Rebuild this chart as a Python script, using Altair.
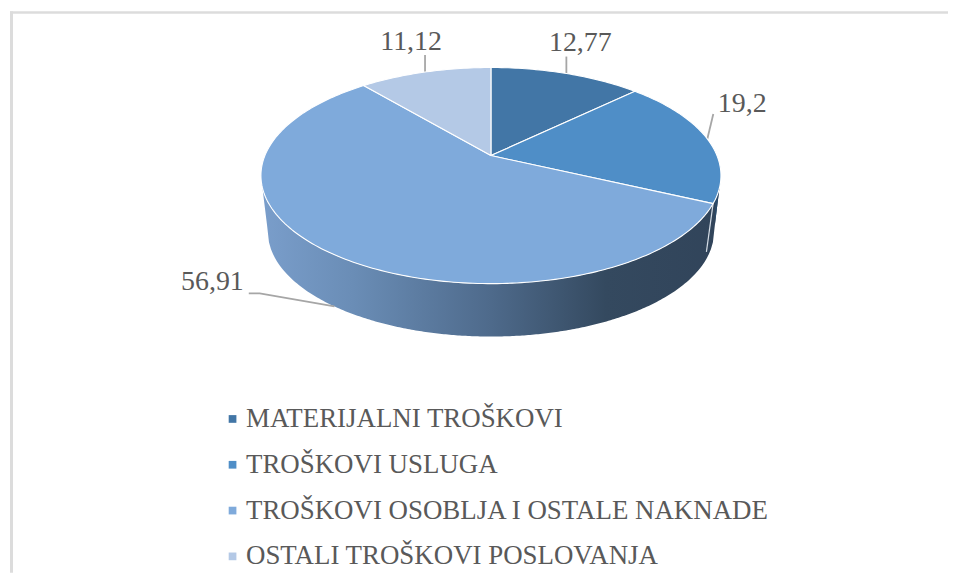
import math
import numpy as np
import pandas as pd
import altair as alt

# --- chart values -------------------------------------------------------
categories = ["MATERIJALNI TROŠKOVI", "TROŠKOVI USLUGA",
              "TROŠKOVI OSOBLJA I OSTALE NAKNADE", "OSTALI TROŠKOVI POSLOVANJA"]
values = [12.77, 19.2, 56.91, 11.12]
value_labels = ["12,77", "19,2", "56,91", "11,12"]
colors = ["#4276a6", "#4f8ec7", "#7faadb", "#b4c9e6"]

# --- layout --------------------------------------------------------------
W, H = 942, 566
APEX_X, APEX_Y = 483, 147           # pie centre inside the plot area
A, B, P = 227.0, 104.8, 0.185       # tilted-disc projection
DEPTH, SHRINK = 57.0, 0.97          # thickness of the disc
FONT = "Liberation Serif"
TEXT = "#595959"


def rim(theta):
    u, v = np.sin(theta), np.cos(theta)
    w = 1 + P * v
    return A * u / w, B * v / w


def floor(theta):
    x, y = rim(theta)
    return x * SHRINK, y * SHRINK - DEPTH


total = sum(values)
edges = np.cumsum([0] + values) / total * 2 * math.pi

# top surface wedges
rows = []
for name, t0, t1 in zip(categories, edges[:-1], edges[1:]):
    n = max(8, int(math.degrees(t1 - t0)))
    ts = np.linspace(t0, t1, n)
    xs, ys = rim(ts)
    px = [0.0, *xs, 0.0]
    py = [0.0, *ys, 0.0]
    for i, (a, b) in enumerate(zip(px, py)):
        rows.append({"name": name, "i": i, "x": float(a), "y": float(b)})
wedges = pd.DataFrame(rows)

# disc side
tang = math.acos(-P)
front = np.linspace(tang, 2 * math.pi - tang, 181)[::-1]
fx, fy = rim(front)
bx, by = floor(front)
bx = np.r_[fx[0], bx, fx[-1]]
by = np.r_[fy[0], by, fy[-1]]
grid = np.linspace(fx[0], fx[-1], 230)
side = pd.DataFrame({"x": grid, "y": np.interp(grid, fx, fy), "y2": np.interp(grid, bx, by)})

# the sliver of the second slice that shows on the side
t_split = edges[2]
sl = grid[grid >= rim(t_split)[0]]
sliver = pd.DataFrame({"x": sl, "y": np.interp(sl, fx, fy), "y2": np.interp(sl, bx, by)})
ex0, ey0 = rim(t_split)
ex1, ey1 = floor(t_split)
split_edge = pd.DataFrame({"x": [ex0, ex1], "y": [ey0, ey1 + 7], "i": [0, 1]})

# leaders start at slice middles
mids = (edges[:-1] + edges[1:]) / 2
leader_rows = []
label_rows = []
# leader bend offsets and label offsets, relative to the anchor
leader_offsets = [[(0, 17)], [(6, 25)], [(-75, 13), (-86, 13)], [(0, 17)]]
label_offsets = [(14, 23), (35, 27), (-122.5, 16), (-14, 22)]
for k, t in enumerate(mids):
    ax, ay = floor(t) if k == 2 else rim(t)
    pts = [(ax, ay)] + [(ax + dx, ay + dy) for dx, dy in leader_offsets[k]]
    for i, (a, b) in enumerate(pts):
        leader_rows.append({"k": k, "i": i, "x": float(a), "y": float(b)})
    label_rows.append({"x": float(ax + label_offsets[k][0]),
                       "y": float(ay + label_offsets[k][1]),
                       "t": value_labels[k]})
leaders = pd.DataFrame(leader_rows)
labels = pd.DataFrame(label_rows)

xs = alt.Scale(domain=[-APEX_X, W - APEX_X], nice=False, zero=False)
ys = alt.Scale(domain=[APEX_Y - H, APEX_Y], nice=False, zero=False)
X = alt.X("x:Q", scale=xs, axis=None)
Y = alt.Y("y:Q", scale=ys, axis=None)

side_fill = alt.Gradient(
    gradient="linear", x1=0, x2=1, y1=0, y2=0,
    stops=[
        alt.GradientStop(offset=0, color="#7a9ecb"),
        alt.GradientStop(offset=0.2, color="#6a8db6"),
        alt.GradientStop(offset=0.5, color="#4e6a8b"),
        alt.GradientStop(offset=0.75, color="#34495f"),
        alt.GradientStop(offset=1, color="#31445a"),
    ],
)

side_layer = alt.Chart(side).mark_area(fill=side_fill, line=False, interpolate="linear").encode(
    x=X, y=Y, y2="y2:Q")
sliver_layer = alt.Chart(sliver).mark_area(color="#2b4a69", interpolate="linear").encode(
    x=X, y=Y, y2="y2:Q")
split_layer = alt.Chart(split_edge).mark_line(color="#d5dde6", strokeWidth=1.2).encode(
    x=X, y=Y, order="i:Q")

wedge_layer = alt.Chart(wedges).mark_line(
    filled=True, stroke="white", strokeWidth=1.1, interpolate="linear", strokeJoin="round"
).encode(
    x=X, y=Y, order="i:Q",
    color=alt.Color(
        "name:N",
        scale=alt.Scale(domain=categories, range=colors),
        legend=alt.Legend(
            title=None, orient="none", legendX=204.5, legendY=398,
            symbolType="square", symbolSize=60, symbolStrokeWidth=0, symbolOffset=5.5,
            labelFont=FONT, labelFontSize=27, labelColor=TEXT, labelLimit=700,
            rowPadding=18, labelOffset=0, padding=0,
        ),
    ),
)

leader_layer = alt.Chart(leaders).mark_line(color="#a6a6a6", strokeWidth=1.8).encode(
    x=X, y=Y, detail="k:N", order="i:Q")
label_layer = alt.Chart(labels).mark_text(
    font=FONT, fontSize=28, color=TEXT, align="center", baseline="alphabetic"
).encode(x=X, y=Y, text="t:N")

border_df = pd.DataFrame({"a": [0]})
left_border = alt.Chart(border_df).mark_rule(color="#dcdcdc", strokeWidth=3).encode(
    x=alt.value(1.5), y=alt.value(2), y2=alt.value(H))
top_border = alt.Chart(border_df).mark_rule(color="#dcdcdc", strokeWidth=2.7).encode(
    y=alt.value(3.3), x=alt.value(0), x2=alt.value(W))

chart = alt.layer(
    left_border, top_border, side_layer, sliver_layer, split_layer,
    leader_layer, wedge_layer, label_layer,
).properties(width=W, height=H, padding=0, background="white").configure_view(stroke=None)

chart.save("out.html", embed_options={"renderer": "svg", "actions": False})
